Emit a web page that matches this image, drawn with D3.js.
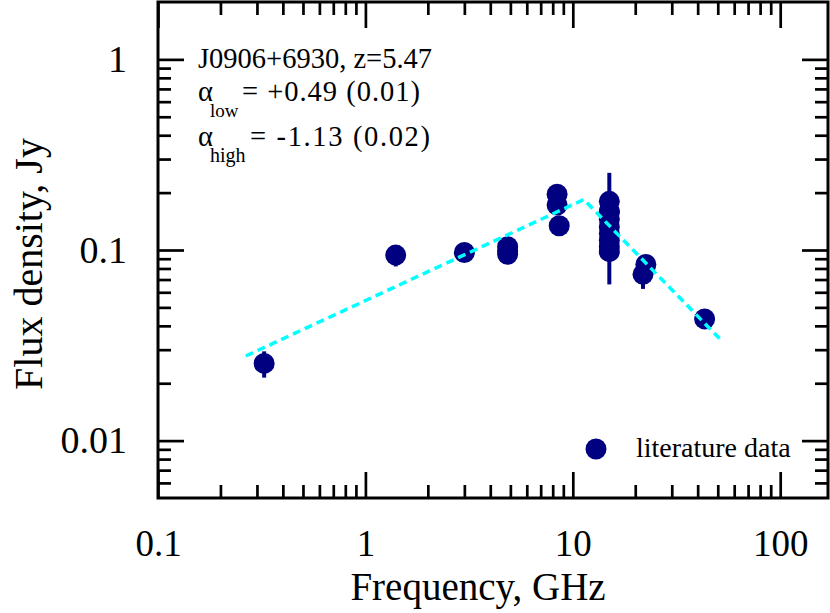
<!DOCTYPE html>
<html>
<head>
<meta charset="utf-8">
<script src="https://cdn.jsdelivr.net/npm/d3@7"></script>
<style>
  html, body { margin: 0; padding: 0; background: #fff; }
  svg { display: block; font-family: "Liberation Serif", "Times New Roman", serif; }
</style>
</head>
<body>
<svg id="chart" width="830" height="613"></svg>
<script>
// ---- data ----
const pointFreq = [0.325, 1.4, 3.0, 4.85, 4.85, 4.85, 8.4, 8.4, 8.6,
                   15, 15, 15, 15, 15, 15, 15, 15, 15, 22.5, 21.8, 43.2];
const pointFlux = [0.0254, 0.094, 0.097, 0.104, 0.099, 0.095, 0.196, 0.172, 0.134,
                   0.180, 0.160, 0.145, 0.132, 0.122, 0.112, 0.104, 0.098, 0.158, 0.084, 0.0745, 0.0435];
const pointErr  = [0.004, 0.012, 0.008, 0.005, 0.005, 0.007, 0.008, 0.008, 0.012,
                   0.006, 0.094, 0.006, 0.006, 0.006, 0.006, 0.006, 0.006, 0.006, 0.005, 0.012, 0.003];
const fitFreq = [0.265, 11.3, 51];
const fitFlux = [0.0278, 0.184, 0.0343];
const xMajorTicks = [0.1, 1, 10, 100];
const xTickLabels = ["0.1", "1", "10", "100"];
const yMajorTicks = [0.01, 0.1, 1];
const yTickLabels = ["0.01", "0.1", "1"];
const xMinorTicks = [0.2,0.3,0.4,0.5,0.6,0.7,0.8,0.9, 2,3,4,5,6,7,8,9, 20,30,40,50,60,70,80,90];
const yMinorTicks = [0.006,0.007,0.008,0.009, 0.02,0.03,0.04,0.05,0.06,0.07,0.08,0.09, 0.2,0.3,0.4,0.5,0.6,0.7,0.8,0.9];
const titleLines = ["J0906+6930, z=5.47"];
const alphaLow = "= +0.49 (0.01)";
const alphaHigh = "= -1.13 (0.02)";
const legendLabel = "literature data";
const xTitle = "Frequency, GHz";
const yTitle = "Flux density, Jy";

// ---- layout ----
const L = 158, R = 828, T = 2, B = 498;
const navy = "#000080", cyan = "#00ffff";
const svg = d3.select("#chart");

const x = d3.scaleLog().domain([0.1, 170]).range([L, R]);
const y = d3.scaleLog().domain([0.005, 2]).range([B, T]);

const majorLen = 26, minorLen = 13, tickW = 2.7;

function styleAxis(g, fontSize) {
  g.select(".domain").remove();
  g.selectAll(".tick line").attr("stroke", "#000").attr("stroke-width", tickW);
  g.selectAll(".tick text").attr("fill", "#000").attr("font-size", fontSize)
    .attr("font-family", "Liberation Serif, Times New Roman, serif");
}

// bottom
svg.append("g").attr("transform", `translate(0,${B})`)
  .call(d3.axisBottom(x).tickValues(xMajorTicks).tickSize(-majorLen).tickPadding(32)
        .tickFormat((d, i) => xTickLabels[i]))
  .call(g => styleAxis(g, 37));
svg.append("g").attr("transform", `translate(0,${B})`)
  .call(d3.axisBottom(x).tickValues(xMinorTicks).tickSize(-minorLen).tickFormat(""))
  .call(g => styleAxis(g, 0));
// top
svg.append("g").attr("transform", `translate(0,${T})`)
  .call(d3.axisTop(x).tickValues(xMajorTicks).tickSize(-majorLen).tickFormat(""))
  .call(g => styleAxis(g, 0));
svg.append("g").attr("transform", `translate(0,${T})`)
  .call(d3.axisTop(x).tickValues(xMinorTicks).tickSize(-minorLen).tickFormat(""))
  .call(g => styleAxis(g, 0));
// left
svg.append("g").attr("transform", `translate(${L},0)`)
  .call(d3.axisLeft(y).tickValues(yMajorTicks).tickSize(-majorLen).tickPadding(31)
        .tickFormat((d, i) => yTickLabels[i]))
  .call(g => styleAxis(g, 38));
svg.append("g").attr("transform", `translate(${L},0)`)
  .call(d3.axisLeft(y).tickValues(yMinorTicks).tickSize(-minorLen).tickFormat(""))
  .call(g => styleAxis(g, 0));
// right
svg.append("g").attr("transform", `translate(${R},0)`)
  .call(d3.axisRight(y).tickValues(yMajorTicks).tickSize(-majorLen).tickFormat(""))
  .call(g => styleAxis(g, 0));
svg.append("g").attr("transform", `translate(${R},0)`)
  .call(d3.axisRight(y).tickValues(yMinorTicks).tickSize(-minorLen).tickFormat(""))
  .call(g => styleAxis(g, 0));

// frame
svg.append("rect").attr("x", L).attr("y", T).attr("width", R - L).attr("height", B - T)
  .attr("fill", "none").attr("stroke", "#000").attr("stroke-width", 3);

// data
const pts = pointFreq.map((f, i) => ({ f, s: pointFlux[i], e: pointErr[i] }));
const gp = svg.append("g");
gp.selectAll("line.err").data(pts).join("line").attr("class", "err")
  .attr("x1", d => x(d.f)).attr("x2", d => x(d.f))
  .attr("y1", d => y(d.s + d.e)).attr("y2", d => y(Math.max(d.s - d.e, 1e-4)))
  .attr("stroke", navy).attr("stroke-width", 4);
gp.selectAll("circle").data(pts).join("circle")
  .attr("cx", d => x(d.f)).attr("cy", d => y(d.s)).attr("r", 10.5).attr("fill", navy);

// fit line
const fit = fitFreq.map((f, i) => [f, fitFlux[i]]);
svg.append("path").datum(fit)
  .attr("d", d3.line().x(d => x(d[0])).y(d => y(d[1])))
  .attr("fill", "none").attr("stroke", cyan).attr("stroke-width", 3.5)
  .attr("stroke-dasharray", "8,5");

// annotations
const ann = svg.append("g").attr("fill", "#000");
ann.append("text").attr("x", 198).attr("y", 68).attr("font-size", 28.5).text(titleLines[0]);
const t2 = ann.append("text").attr("x", 198).attr("y", 101).attr("font-size", 28.5);
t2.append("tspan").text("α");
t2.append("tspan").attr("x", 210).attr("font-size", 19).attr("dy", 16).text("low");
t2.append("tspan").attr("x", 242).attr("dy", -16).attr("textLength", 178)
  .attr("lengthAdjust", "spacing").text(alphaLow);
const t3 = ann.append("text").attr("x", 198).attr("y", 146).attr("font-size", 28.5);
t3.append("tspan").text("α");
t3.append("tspan").attr("x", 210).attr("font-size", 20).attr("dy", 16).text("high");
t3.append("tspan").attr("x", 250).attr("dy", -16).attr("textLength", 180)
  .attr("lengthAdjust", "spacing").text(alphaHigh);

// legend
svg.append("circle").attr("cx", 596).attr("cy", 449).attr("r", 10.5).attr("fill", navy);
svg.append("text").attr("x", 636).attr("y", 457).attr("font-size", 28).text(legendLabel);

// axis titles
svg.append("text").attr("x", 478).attr("y", 600).attr("text-anchor", "middle")
  .attr("font-size", 39).text(xTitle);
svg.append("text").attr("transform", "translate(42,264) rotate(-90)").attr("text-anchor", "middle")
  .attr("font-size", 40).text(yTitle);
</script>
</body>
</html>
